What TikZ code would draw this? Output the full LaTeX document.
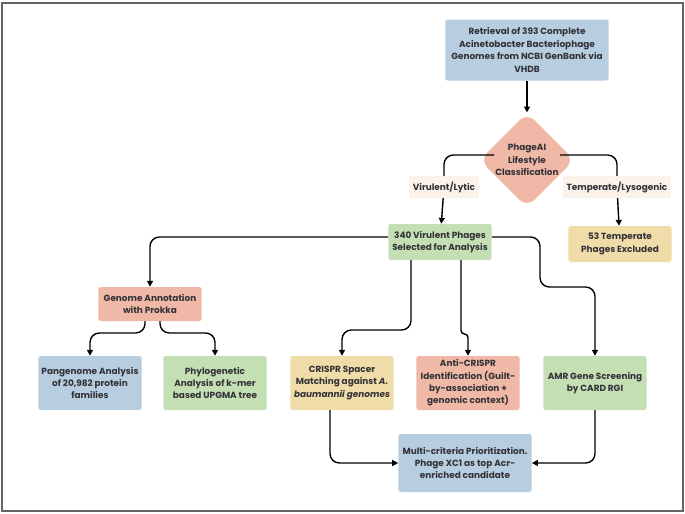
\documentclass[tikz,border=0pt]{standalone}
\usepackage{fontspec}
\setmainfont{Poppins}
\usetikzlibrary{arrows.meta,positioning,shapes.geometric}
\definecolor{boxblue}{RGB}{183,205,224}
\definecolor{boxred}{RGB}{240,184,166}
\definecolor{boxgreen}{RGB}{197,223,181}
\definecolor{boxyellow}{RGB}{240,220,168}
\definecolor{tagcream}{RGB}{251,243,234}
\definecolor{ink}{RGB}{50,50,55}
\tikzset{
  box/.style={draw=none, rounded corners=2pt, align=center, minimum width=#1, inner sep=2pt, font=\fontsize{7.6}{10.6}\selectfont\bfseries, text=ink},
  box/.default=31mm,
  tag/.style={fill=tagcream, inner sep=3pt, minimum height=6.6mm, font=\fontsize{7.6}{10}\selectfont\bfseries, text=ink},
  link/.style={line width=1.2pt, rounded corners=8pt, -{Triangle[length=5pt,width=5pt]}},
  plain/.style={line width=1.2pt, rounded corners=8pt}
}
\begin{document}
\begin{tikzpicture}[x=0.3mm,y=-0.3mm]
  \useasboundingbox (0,0) rectangle (685,514);
  \draw[line width=1.2pt, draw=gray!80!black] (2,3) rectangle (683,511);

  % top of the flow
  \node[box=49mm, fill=boxblue, minimum height=18.3mm] (retr) at (527,50) {Retrieval of 393 Complete\\Acinetobacter Bacteriophage\\Genomes from NCBI GenBank via\\VHDB};
  \node[diamond, fill=boxred, minimum width=26mm, minimum height=26mm, inner sep=0pt, rounded corners=9pt, align=center, font=\fontsize{7.6}{10.6}\selectfont\bfseries, text=ink] (lifestyle) at (527,160) {PhageAI\\Lifestyle\\Classification};
  \node[tag] (vir) at (444,187) {Virulent/Lytic};
  \node[tag] (temp) at (617,187) {Temperate/Lysogenic};
  \node[box, fill=boxgreen, minimum height=10.8mm] (sel) at (440,242) {340 Virulent Phages\\Selected for Analysis};
  \node[box, fill=boxyellow, minimum height=10.8mm] (excl) at (620,244) {53 Temperate\\Phages Excluded};

  % analysis boxes
  \node[box, fill=boxred, minimum height=10.2mm] (annot) at (150,304) {Genome Annotation\\with Prokka};
  \node[box, fill=boxblue, minimum height=16.2mm] (pan) at (90,383) {Pangenome Analysis\\of 20,982 protein\\families};
  \node[box, fill=boxgreen, minimum height=16.2mm] (phylo) at (215,383) {Phylogenetic\\Analysis of k-mer\\based UPGMA tree};
  \node[box, fill=boxyellow, minimum height=16.2mm] (crispr) at (342,383) {CRISPR Spacer\\Matching against \textit{A.}\\\textit{baumannii genomes}};
  \node[box, fill=boxred, minimum height=16.2mm] (acr) at (468,383) {Anti-CRISPR\\Identification (Guilt-\\by-association +\\genomic context)};
  \node[box, fill=boxgreen, minimum height=16.2mm] (amr) at (595,383) {AMR Gene Screening\\by CARD RGI};
  \node[box=40mm, fill=boxblue, minimum height=17.4mm] (prio) at (465,463) {Multi-criteria Prioritization.\\Phage XC1 as top Acr-\\enriched candidate};

  % connectors
  \draw[link] (retr) -- (lifestyle);
  \draw[plain] (494,155) -| (vir.north);
  \draw[plain] (560,155) -| (temp.north);
  \draw[link] (vir) -- (sel);
  \draw[link] (temp) -- (excl);
  \draw[link] (sel.west) ++(0,-5) -| (annot.north);
  \draw[link] (sel.south -| 411,0) |- (342,330) -- (crispr.north);
  \draw[link, rounded corners=3pt] (sel.south -| 461,0) |- (468,334) -- (acr.north);
  \draw[link] (sel.east) ++(0,-5) -- (540,237) |- (595,287) -- (amr.north);
  \draw[link] (annot.south -| 145,0) |- (90,333) -- (pan.north);
  \draw[link] (annot.south -| 160,0) |- (215,333) -- (phylo.north);
  \draw[link] (crispr.south -| 330,0) |- (prio.west);
  \draw[link] (amr.south) |- (prio.east);
\end{tikzpicture}
\end{document}
